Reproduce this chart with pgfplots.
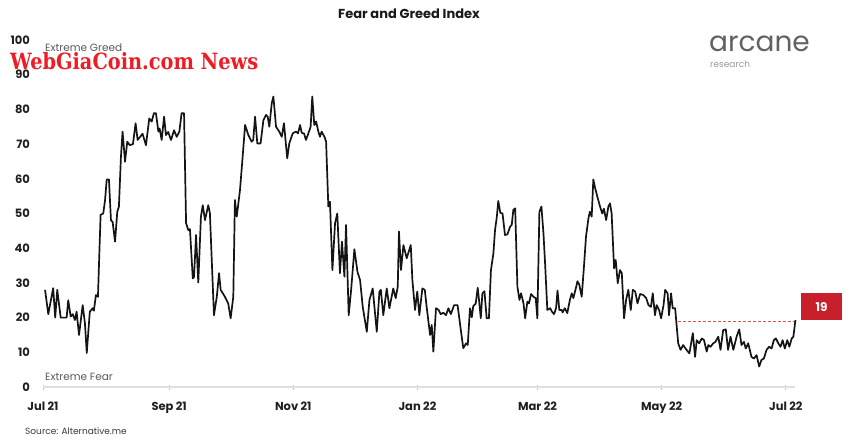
\documentclass[border=0pt]{standalone}
\usepackage{pgfplots}
\pgfplotsset{compat=1.18}
\usepackage{graphicx}
\usepackage{fontspec}
\setmainfont{Poppins}
\newfontfamily\wmfont{DejaVu Serif}
\definecolor{boxred}{HTML}{C8202B}
\definecolor{dashred}{HTML}{D9534F}
\definecolor{wmred}{HTML}{EE1C25}
\pgfplotstableread{
day val
1.0 28
2.6 21
5.0 28.5
6.0 20
7.0 28
8.7 20
11.6 20
12.4 25
13.6 20.3
14.6 21
15.7 19.3
16.5 21.7
17.7 15
19.5 23.6
20.6 18.4
21.5 9.8
23.0 21.7
24.4 22.7
25.0 22
26.0 26.5
27.0 26
28.3 49.6
29.6 50
30.5 53.9
31.3 59.8
32.4 59.8
33.4 48
34.2 47.6
35.4 41.9
36.5 50.5
37.3 52
38.3 66.4
39.1 73.6
40.3 64.9
41.4 70.7
42.6 69.7
44.2 70
45.5 76
46.5 71.2
47.6 72
48.9 73
50.6 69.7
52.2 77.4
53.4 76.5
54.5 78.9
55.5 78.9
56.7 73.6
57.3 74.5
58.3 71.2
59.5 77.9
60.4 72.6
61.5 73.5
62.9 71.2
64.4 74
65.7 72.1
67.0 73.6
68.1 78.9
69.3 78.9
70.3 47.2
71.4 45.2
72.2 45.5
73.6 31.3
74.2 31.7
75.2 43.8
76.3 30.1
77.6 49.1
78.5 52.4
79.6 48.1
81.2 52.4
82.0 50.1
84.0 20.7
85.4 26
86.5 32.8
87.3 28
89.4 26
91.0 24.1
92.2 19.8
93.5 26
94.3 53.9
95.2 49.1
96.8 56.8
98.1 66.4
99.3 75.5
100.9 72.6
102.5 70.7
103.3 71.2
104.2 77.9
105.3 70.2
106.9 70.2
108.3 76.9
109.6 78.4
110.4 77.9
111.2 75
112.4 81.8
113.2 83.7
114.5 75
116.1 73.6
117.3 72.1
118.4 76
120.0 65.9
121.0 70.2
122.7 73.1
124.3 73.6
125.3 73.1
126.3 75.5
127.1 73.3
128.3 73
129.2 71.2
130.4 73.1
131.5 75
132.3 83.7
133.3 75.5
134.2 76.5
135.3 73.6
136.1 72.1
136.9 73.6
138.3 72.1
139.1 70.7
140.2 52
141.0 53.4
142.2 33.7
143.5 47.2
144.6 50
145.9 32.8
146.9 41.9
148.1 31.8
148.9 46.7
150.2 20.7
151.4 28
153.0 39.7
154.5 33.2
155.8 30.8
157.1 23.1
159.1 15.9
160.4 25.1
162.0 28.4
164.0 15.9
165.3 27.5
166.0 28
167.2 20.7
168.9 28.4
170.2 22.7
172.1 28.4
173.3 25.6
174.3 28.9
174.9 44.8
175.9 33.7
177.1 40.9
178.7 37.1
180.7 40.9
181.5 30.8
182.8 22.2
183.9 27.5
184.9 20.7
186.4 28.4
187.6 28
188.5 23.1
190.2 15
191.0 17.9
191.8 10.2
193.1 22.7
194.4 22.2
195.4 21
196.7 21.4
198.0 20.7
199.2 22.7
200.4 21
202.0 23.6
203.7 23.6
205.3 16.4
206.5 11.2
207.9 12.6
208.7 12.1
209.8 22.7
210.7 20.1
211.4 23.3
212.6 24
213.6 28.6
214.4 24.1
215.1 19.8
215.9 27
216.9 27.6
218.0 19.8
219.1 19.8
220.1 33.7
221.3 38.5
222.1 45.2
223.0 49.1
223.7 53.6
224.7 50.2
225.8 50
227.0 43.8
228.2 44
229.5 46.2
230.3 46.7
231.1 51
232.0 51.5
233.1 28.9
234.1 25.1
234.9 27
236.1 24.1
236.9 19.8
238.0 24.6
238.8 24.1
239.8 26.8
241.0 26
242.1 25.6
242.9 19.8
243.9 50.5
244.9 52
245.9 44.3
246.7 35.6
247.8 22.2
249.2 22.7
250.1 21.7
251.1 21
252.1 22.7
252.8 27.8
253.7 22.2
254.9 22.2
255.3 21.5
256.4 22.7
257.6 21.3
258.9 25.1
259.8 27
260.6 25.6
261.8 28.4
262.6 30.5
263.5 29.5
264.7 26
265.8 34.7
266.8 43.3
268.0 48.6
268.7 50.5
269.6 49.1
270.4 59.8
271.3 57.3
272.4 54.8
273.7 52
274.8 50
275.6 51.4
276.7 48.1
277.8 52
278.6 52.9
279.4 50
280.6 34.2
281.4 36.6
282.4 29.9
283.5 33.7
284.4 32.8
285.5 19.8
286.5 25.1
287.6 28
288.8 22.2
289.8 28
291.0 27.5
292.1 24.1
293.4 26.8
295.0 26.5
296.4 25.6
297.5 23.6
298.7 23.1
299.6 27
300.7 20.7
301.5 23.6
302.7 22.2
303.7 19.8
304.9 23.6
305.7 28
306.9 27
307.6 20.7
308.6 27
309.4 22.7
310.6 22.7
312.1 12.6
313.3 10.7
314.5 12.1
316.2 10.7
317.6 9.7
319.3 15.5
320.4 8.7
321.2 13.5
322.4 12.6
323.7 14
324.8 13.5
326.1 10.2
326.9 12.1
328.0 11.6
329.3 12.6
330.4 13
331.8 14.5
332.9 10.7
334.2 16.4
335.5 16.6
336.6 10.7
337.8 14.5
339.2 10.7
340.8 14.5
342.1 16.6
343.2 12.1
344.4 13
345.3 11.1
346.5 12.6
348.1 8.7
349.3 8.2
350.6 9.2
351.9 5.9
353.0 7.8
354.2 8.2
355.5 10.7
356.8 11.6
358.0 11.1
359.1 13.5
360.1 14
361.3 12.6
362.4 11.6
363.4 13.5
364.5 11.1
365.7 13.5
366.7 11.6
367.9 14
368.7 14.5
369.7 19.3
}\fgdata
\begin{document}
\begin{tikzpicture}
\path[use as bounding box] (0pt,0pt) rectangle (850pt,440pt);
\begin{axis}[
  at={(43pt,53pt)}, anchor=south west,
  scale only axis, width=752pt, height=347pt,
  xmin=0, xmax=369.5, ymin=0, ymax=100,
  clip=false,
  axis x line*=bottom, axis y line*=left,
  y axis line style={draw=none},
  x axis line style={draw=black!12, line width=1.2pt},
  xtick={0,62,123,184,243,304,365},
  xticklabels={Jul 21,Sep 21,Nov 21,Jan 22,Mar 22,May 22,Jul 22},
  ytick={0,10,...,100},
  ytick style={draw=none},
  xtick style={draw=black!22, line width=0.8pt},
  tick align=center, major tick length=5pt,
  tick label style={font=\fontsize{11.5}{13}\selectfont\bfseries, text=black!88},
  /pgf/number format/assume math mode=true,
  yticklabel style={xshift=-7pt},
  xticklabel style={yshift=-9pt},
]
\addplot[dashred, line width=0.6pt, dash pattern=on 3pt off 2pt] coordinates {(312,19) (369.5,19)};
\addplot[black!92, line width=1.7pt, line join=round, mark=none] table[x=day,y=val] {\fgdata};
\fill[boxred] (axis cs:372.5,19.2) rectangle (axis cs:392.6,27.0);
\node[text=white, font=\fontsize{12}{14}\selectfont\bfseries] at (axis cs:382.5,23.1) {19};
\end{axis}
\node[font=\fontsize{13}{15}\selectfont\bfseries, text=black!90] at (409pt,426pt) {Fear and Greed Index};
\node[anchor=west, inner sep=0pt, font=\fontsize{10.5}{12}\selectfont, text=black!65] at (45pt,392pt) {Extreme Greed};
\node[anchor=west, inner sep=0pt, font=\fontsize{10.5}{12}\selectfont, text=black!65] at (45pt,63pt) {Extreme Fear};
\node[anchor=west, inner sep=0pt, font=\fontsize{9}{11}\selectfont, text=black!78] at (25pt,9pt) {Source: Alternative.me};
\node[anchor=west, inner sep=0pt, font=\fontsize{28}{30}\selectfont, text=black!62] at (709pt,396pt) {arcane};
\node[anchor=west, inner sep=0pt, font=\fontsize{9}{11}\selectfont, text=black!40] at (710pt,376pt) {research};
\node[anchor=west, inner sep=0pt, text=wmred] at (10pt,379pt) {\resizebox{248pt}{17pt}{\wmfont\bfseries WebGiaCoin.com News}};
\end{tikzpicture}
\end{document}
